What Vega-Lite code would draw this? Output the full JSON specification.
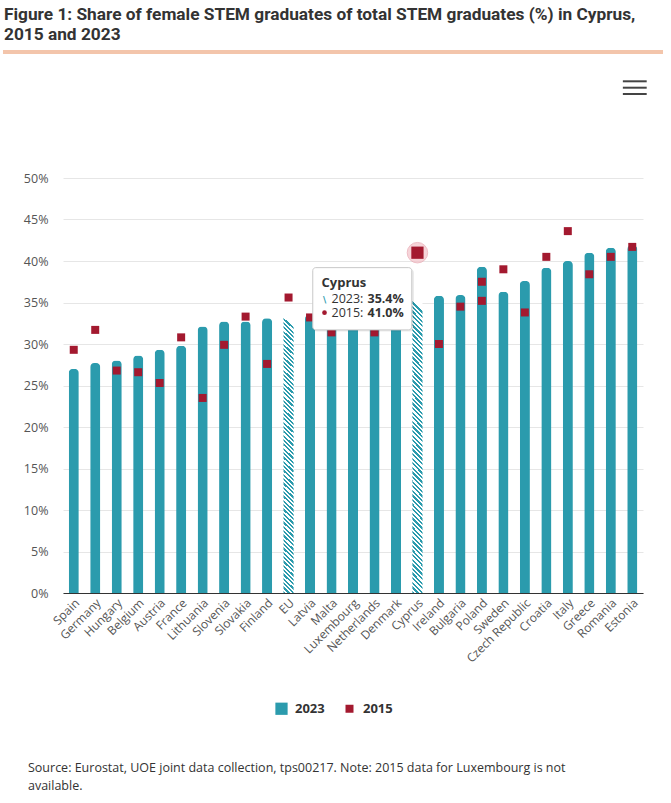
{
  "$schema": "https://vega.github.io/schema/vega-lite/v6.json",
  "background": "white",
  "padding": {"left": 0, "top": 6, "right": 6, "bottom": 0},
  "title": {
    "text": ["Source: Eurostat, UOE joint data collection, tps00217. Note: 2015 data for Luxembourg is not", "available."],
    "orient": "bottom",
    "anchor": "start",
    "font": "Open Sans",
    "fontSize": 12.5,
    "fontWeight": "normal",
    "color": "#333333",
    "lineHeight": 18,
    "offset": 46,
    "dx": 27
  },
  "datasets": {
    "y2023": [
      {"country": "Spain", "value": 27.0},
      {"country": "Germany", "value": 27.7},
      {"country": "Hungary", "value": 28.0},
      {"country": "Belgium", "value": 28.6},
      {"country": "Austria", "value": 29.3},
      {"country": "France", "value": 29.8},
      {"country": "Lithuania", "value": 32.1},
      {"country": "Slovenia", "value": 32.7},
      {"country": "Slovakia", "value": 32.7},
      {"country": "Finland", "value": 33.1},
      {"country": "EU", "value": 33.4},
      {"country": "Latvia", "value": 33.5},
      {"country": "Malta", "value": 33.7},
      {"country": "Luxembourg", "value": 34.0},
      {"country": "Netherlands", "value": 34.3},
      {"country": "Denmark", "value": 34.9},
      {"country": "Cyprus", "value": 35.4},
      {"country": "Ireland", "value": 35.8},
      {"country": "Bulgaria", "value": 35.9},
      {"country": "Poland", "value": 39.3},
      {"country": "Sweden", "value": 36.3},
      {"country": "Czech Republic", "value": 37.6},
      {"country": "Croatia", "value": 39.2},
      {"country": "Italy", "value": 40.0},
      {"country": "Greece", "value": 41.0},
      {"country": "Romania", "value": 41.6},
      {"country": "Estonia", "value": 41.9}
    ],
    "y2015": [
      {"country": "Spain", "value": 29.3},
      {"country": "Germany", "value": 31.7},
      {"country": "Hungary", "value": 26.8},
      {"country": "Belgium", "value": 26.6},
      {"country": "Austria", "value": 25.3},
      {"country": "France", "value": 30.8},
      {"country": "Lithuania", "value": 23.5},
      {"country": "Slovenia", "value": 29.9},
      {"country": "Slovakia", "value": 33.3},
      {"country": "Finland", "value": 27.6},
      {"country": "EU", "value": 35.6},
      {"country": "Latvia", "value": 33.2},
      {"country": "Malta", "value": 31.4},
      {"country": "Netherlands", "value": 31.4},
      {"country": "Denmark", "value": 35.0},
      {"country": "Cyprus", "value": 41.0},
      {"country": "Ireland", "value": 30.0},
      {"country": "Bulgaria", "value": 34.5},
      {"country": "Poland", "value": 37.5},
      {"country": "Poland", "value": 35.2},
      {"country": "Sweden", "value": 39.0},
      {"country": "Czech Republic", "value": 33.8},
      {"country": "Croatia", "value": 40.5},
      {"country": "Italy", "value": 43.6},
      {"country": "Greece", "value": 38.4},
      {"country": "Romania", "value": 40.5},
      {"country": "Estonia", "value": 41.7}
    ]
  },
  "columns": 1,
  "spacing": 70,
  "concat": [
    {
      "title": {
        "text": ["Figure 1: Share of female STEM graduates of total STEM graduates (%) in Cyprus,", "2015 and 2023"],
        "anchor": "start",
        "frame": "bounds",
        "font": "Roboto",
        "fontSize": 17.3,
        "fontWeight": "bold",
        "color": "#333333",
        "lineHeight": 19.5,
        "offset": 7,
        "dx": 3
      },
      "width": 602,
      "height": 50,
      "data": {"values": [{}]},
      "layer": [
        {
          "mark": {"type": "rule", "color": "#f3c5ab", "strokeWidth": 4},
          "encoding": {
            "x": {"datum": -0.0997, "type": "quantitative", "scale": {"domain": [0, 1], "nice": false, "zero": false}, "axis": null},
            "x2": {"datum": 0.9967},
            "y": {"datum": 0, "type": "quantitative", "scale": {"domain": [0, 50], "nice": false, "reverse": true}, "axis": null}
          }
        },
        {
          "mark": {"type": "rule", "color": "#444444", "strokeWidth": 2},
          "encoding": {"x": {"datum": 0.930, "type": "quantitative"}, "x2": {"datum": 0.9696}, "y": {"datum": 29.3, "type": "quantitative"}}
        },
        {
          "mark": {"type": "rule", "color": "#444444", "strokeWidth": 2},
          "encoding": {"x": {"datum": 0.930, "type": "quantitative"}, "x2": {"datum": 0.9696}, "y": {"datum": 35.7, "type": "quantitative"}}
        },
        {
          "mark": {"type": "rule", "color": "#444444", "strokeWidth": 2},
          "encoding": {"x": {"datum": 0.930, "type": "quantitative"}, "x2": {"datum": 0.9696}, "y": {"datum": 42, "type": "quantitative"}}
        }
      ]
    },
    {
      "width": 580,
      "height": 415,
      "layer": [
        {
          "data": {"name": "y2023"},
          "transform": [{"filter": "datum.country !== 'EU' && datum.country !== 'Cyprus'"}],
          "mark": {"type": "bar", "cornerRadiusTopLeft": 4, "cornerRadiusTopRight": 4},
          "encoding": {
            "x": {
              "field": "country",
              "type": "nominal",
              "sort": null,
              "scale": {
                "domain": ["Spain", "Germany", "Hungary", "Belgium", "Austria", "France", "Lithuania", "Slovenia", "Slovakia", "Finland", "EU", "Latvia", "Malta", "Luxembourg", "Netherlands", "Denmark", "Cyprus", "Ireland", "Bulgaria", "Poland", "Sweden", "Czech Republic", "Croatia", "Italy", "Greece", "Romania", "Estonia"],
                "paddingInner": 0.53,
                "paddingOuter": 0.265
              },
              "axis": {
                "title": null,
                "labelAngle": -45,
                "ticks": false,
                "domainColor": "#333333",
                "labelFont": "Open Sans",
                "labelFontSize": 12,
                "labelColor": "#555555",
                "labelPadding": 4
              }
            },
            "y": {
              "field": "value",
              "type": "quantitative",
              "scale": {"domain": [0, 50], "nice": false},
              "axis": {
                "title": null,
                "values": [0, 5, 10, 15, 20, 25, 30, 35, 40, 45, 50],
                "labelExpr": "datum.value + '%'",
                "domain": false,
                "ticks": false,
                "gridColor": "#e6e6e6",
                "labelFont": "Open Sans",
                "labelFontSize": 12.5,
                "labelColor": "#555555",
                "labelPadding": 15,
                "minExtent": 60
              }
            },
            "color": {
              "datum": "2023",
              "type": "nominal",
              "scale": {"domain": ["2023", "2015"], "range": ["#2b9bad", "#a3192f"]},
              "legend": {
                "title": null,
                "orient": "none",
                "legendX": 212,
                "legendY": 650,
                "direction": "horizontal",
                "symbolType": "square",
                "labelFont": "Open Sans",
                "labelFontSize": 13,
                "labelFontWeight": "bold",
                "labelColor": "#333333",
                "labelOffset": 7,
                "columnPadding": 18,
                "encode": {"symbols": {"update": {"size": {"signal": "datum.value === '2023' ? 150 : 64"}}}}
              }
            }
          }
        },
        {
          "data": {"name": "y2023"},
          "transform": [{"filter": "datum.country === 'EU' || datum.country === 'Cyprus'"}],
          "mark": {
            "type": "bar",
            "fill": {
              "gradient": "linear", "x1": 0, "y1": 1, "x2": 0.035, "y2": 0,
              "stops": [
                {"offset": 0, "color": "#2b9bad"}, {"offset": 0.0078, "color": "#2b9bad"}, {"offset": 0.0078, "color": "#fff"}, {"offset": 0.0156, "color": "#fff"},
                {"offset": 0.0156, "color": "#2b9bad"}, {"offset": 0.0234, "color": "#2b9bad"}, {"offset": 0.0234, "color": "#fff"}, {"offset": 0.0313, "color": "#fff"},
                {"offset": 0.0313, "color": "#2b9bad"}, {"offset": 0.0391, "color": "#2b9bad"}, {"offset": 0.0391, "color": "#fff"}, {"offset": 0.0469, "color": "#fff"},
                {"offset": 0.0469, "color": "#2b9bad"}, {"offset": 0.0547, "color": "#2b9bad"}, {"offset": 0.0547, "color": "#fff"}, {"offset": 0.0625, "color": "#fff"},
                {"offset": 0.0625, "color": "#2b9bad"}, {"offset": 0.0703, "color": "#2b9bad"}, {"offset": 0.0703, "color": "#fff"}, {"offset": 0.0781, "color": "#fff"},
                {"offset": 0.0781, "color": "#2b9bad"}, {"offset": 0.0859, "color": "#2b9bad"}, {"offset": 0.0859, "color": "#fff"}, {"offset": 0.0938, "color": "#fff"},
                {"offset": 0.0938, "color": "#2b9bad"}, {"offset": 0.1016, "color": "#2b9bad"}, {"offset": 0.1016, "color": "#fff"}, {"offset": 0.1094, "color": "#fff"},
                {"offset": 0.1094, "color": "#2b9bad"}, {"offset": 0.1172, "color": "#2b9bad"}, {"offset": 0.1172, "color": "#fff"}, {"offset": 0.125, "color": "#fff"},
                {"offset": 0.125, "color": "#2b9bad"}, {"offset": 0.1328, "color": "#2b9bad"}, {"offset": 0.1328, "color": "#fff"}, {"offset": 0.1406, "color": "#fff"},
                {"offset": 0.1406, "color": "#2b9bad"}, {"offset": 0.1484, "color": "#2b9bad"}, {"offset": 0.1484, "color": "#fff"}, {"offset": 0.1563, "color": "#fff"},
                {"offset": 0.1563, "color": "#2b9bad"}, {"offset": 0.1641, "color": "#2b9bad"}, {"offset": 0.1641, "color": "#fff"}, {"offset": 0.1719, "color": "#fff"},
                {"offset": 0.1719, "color": "#2b9bad"}, {"offset": 0.1797, "color": "#2b9bad"}, {"offset": 0.1797, "color": "#fff"}, {"offset": 0.1875, "color": "#fff"},
                {"offset": 0.1875, "color": "#2b9bad"}, {"offset": 0.1953, "color": "#2b9bad"}, {"offset": 0.1953, "color": "#fff"}, {"offset": 0.2031, "color": "#fff"},
                {"offset": 0.2031, "color": "#2b9bad"}, {"offset": 0.2109, "color": "#2b9bad"}, {"offset": 0.2109, "color": "#fff"}, {"offset": 0.2188, "color": "#fff"},
                {"offset": 0.2188, "color": "#2b9bad"}, {"offset": 0.2266, "color": "#2b9bad"}, {"offset": 0.2266, "color": "#fff"}, {"offset": 0.2344, "color": "#fff"},
                {"offset": 0.2344, "color": "#2b9bad"}, {"offset": 0.2422, "color": "#2b9bad"}, {"offset": 0.2422, "color": "#fff"}, {"offset": 0.25, "color": "#fff"},
                {"offset": 0.25, "color": "#2b9bad"}, {"offset": 0.2578, "color": "#2b9bad"}, {"offset": 0.2578, "color": "#fff"}, {"offset": 0.2656, "color": "#fff"},
                {"offset": 0.2656, "color": "#2b9bad"}, {"offset": 0.2734, "color": "#2b9bad"}, {"offset": 0.2734, "color": "#fff"}, {"offset": 0.2813, "color": "#fff"},
                {"offset": 0.2813, "color": "#2b9bad"}, {"offset": 0.2891, "color": "#2b9bad"}, {"offset": 0.2891, "color": "#fff"}, {"offset": 0.2969, "color": "#fff"},
                {"offset": 0.2969, "color": "#2b9bad"}, {"offset": 0.3047, "color": "#2b9bad"}, {"offset": 0.3047, "color": "#fff"}, {"offset": 0.3125, "color": "#fff"},
                {"offset": 0.3125, "color": "#2b9bad"}, {"offset": 0.3203, "color": "#2b9bad"}, {"offset": 0.3203, "color": "#fff"}, {"offset": 0.3281, "color": "#fff"},
                {"offset": 0.3281, "color": "#2b9bad"}, {"offset": 0.3359, "color": "#2b9bad"}, {"offset": 0.3359, "color": "#fff"}, {"offset": 0.3438, "color": "#fff"},
                {"offset": 0.3438, "color": "#2b9bad"}, {"offset": 0.3516, "color": "#2b9bad"}, {"offset": 0.3516, "color": "#fff"}, {"offset": 0.3594, "color": "#fff"},
                {"offset": 0.3594, "color": "#2b9bad"}, {"offset": 0.3672, "color": "#2b9bad"}, {"offset": 0.3672, "color": "#fff"}, {"offset": 0.375, "color": "#fff"},
                {"offset": 0.375, "color": "#2b9bad"}, {"offset": 0.3828, "color": "#2b9bad"}, {"offset": 0.3828, "color": "#fff"}, {"offset": 0.3906, "color": "#fff"},
                {"offset": 0.3906, "color": "#2b9bad"}, {"offset": 0.3984, "color": "#2b9bad"}, {"offset": 0.3984, "color": "#fff"}, {"offset": 0.4063, "color": "#fff"},
                {"offset": 0.4063, "color": "#2b9bad"}, {"offset": 0.4141, "color": "#2b9bad"}, {"offset": 0.4141, "color": "#fff"}, {"offset": 0.4219, "color": "#fff"},
                {"offset": 0.4219, "color": "#2b9bad"}, {"offset": 0.4297, "color": "#2b9bad"}, {"offset": 0.4297, "color": "#fff"}, {"offset": 0.4375, "color": "#fff"},
                {"offset": 0.4375, "color": "#2b9bad"}, {"offset": 0.4453, "color": "#2b9bad"}, {"offset": 0.4453, "color": "#fff"}, {"offset": 0.4531, "color": "#fff"},
                {"offset": 0.4531, "color": "#2b9bad"}, {"offset": 0.4609, "color": "#2b9bad"}, {"offset": 0.4609, "color": "#fff"}, {"offset": 0.4688, "color": "#fff"},
                {"offset": 0.4688, "color": "#2b9bad"}, {"offset": 0.4766, "color": "#2b9bad"}, {"offset": 0.4766, "color": "#fff"}, {"offset": 0.4844, "color": "#fff"},
                {"offset": 0.4844, "color": "#2b9bad"}, {"offset": 0.4922, "color": "#2b9bad"}, {"offset": 0.4922, "color": "#fff"}, {"offset": 0.5, "color": "#fff"},
                {"offset": 0.5, "color": "#2b9bad"}, {"offset": 0.5078, "color": "#2b9bad"}, {"offset": 0.5078, "color": "#fff"}, {"offset": 0.5156, "color": "#fff"},
                {"offset": 0.5156, "color": "#2b9bad"}, {"offset": 0.5234, "color": "#2b9bad"}, {"offset": 0.5234, "color": "#fff"}, {"offset": 0.5313, "color": "#fff"},
                {"offset": 0.5313, "color": "#2b9bad"}, {"offset": 0.5391, "color": "#2b9bad"}, {"offset": 0.5391, "color": "#fff"}, {"offset": 0.5469, "color": "#fff"},
                {"offset": 0.5469, "color": "#2b9bad"}, {"offset": 0.5547, "color": "#2b9bad"}, {"offset": 0.5547, "color": "#fff"}, {"offset": 0.5625, "color": "#fff"},
                {"offset": 0.5625, "color": "#2b9bad"}, {"offset": 0.5703, "color": "#2b9bad"}, {"offset": 0.5703, "color": "#fff"}, {"offset": 0.5781, "color": "#fff"},
                {"offset": 0.5781, "color": "#2b9bad"}, {"offset": 0.5859, "color": "#2b9bad"}, {"offset": 0.5859, "color": "#fff"}, {"offset": 0.5938, "color": "#fff"},
                {"offset": 0.5938, "color": "#2b9bad"}, {"offset": 0.6016, "color": "#2b9bad"}, {"offset": 0.6016, "color": "#fff"}, {"offset": 0.6094, "color": "#fff"},
                {"offset": 0.6094, "color": "#2b9bad"}, {"offset": 0.6172, "color": "#2b9bad"}, {"offset": 0.6172, "color": "#fff"}, {"offset": 0.625, "color": "#fff"},
                {"offset": 0.625, "color": "#2b9bad"}, {"offset": 0.6328, "color": "#2b9bad"}, {"offset": 0.6328, "color": "#fff"}, {"offset": 0.6406, "color": "#fff"},
                {"offset": 0.6406, "color": "#2b9bad"}, {"offset": 0.6484, "color": "#2b9bad"}, {"offset": 0.6484, "color": "#fff"}, {"offset": 0.6563, "color": "#fff"},
                {"offset": 0.6563, "color": "#2b9bad"}, {"offset": 0.6641, "color": "#2b9bad"}, {"offset": 0.6641, "color": "#fff"}, {"offset": 0.6719, "color": "#fff"},
                {"offset": 0.6719, "color": "#2b9bad"}, {"offset": 0.6797, "color": "#2b9bad"}, {"offset": 0.6797, "color": "#fff"}, {"offset": 0.6875, "color": "#fff"},
                {"offset": 0.6875, "color": "#2b9bad"}, {"offset": 0.6953, "color": "#2b9bad"}, {"offset": 0.6953, "color": "#fff"}, {"offset": 0.7031, "color": "#fff"},
                {"offset": 0.7031, "color": "#2b9bad"}, {"offset": 0.7109, "color": "#2b9bad"}, {"offset": 0.7109, "color": "#fff"}, {"offset": 0.7188, "color": "#fff"},
                {"offset": 0.7188, "color": "#2b9bad"}, {"offset": 0.7266, "color": "#2b9bad"}, {"offset": 0.7266, "color": "#fff"}, {"offset": 0.7344, "color": "#fff"},
                {"offset": 0.7344, "color": "#2b9bad"}, {"offset": 0.7422, "color": "#2b9bad"}, {"offset": 0.7422, "color": "#fff"}, {"offset": 0.75, "color": "#fff"},
                {"offset": 0.75, "color": "#2b9bad"}, {"offset": 0.7578, "color": "#2b9bad"}, {"offset": 0.7578, "color": "#fff"}, {"offset": 0.7656, "color": "#fff"},
                {"offset": 0.7656, "color": "#2b9bad"}, {"offset": 0.7734, "color": "#2b9bad"}, {"offset": 0.7734, "color": "#fff"}, {"offset": 0.7813, "color": "#fff"},
                {"offset": 0.7813, "color": "#2b9bad"}, {"offset": 0.7891, "color": "#2b9bad"}, {"offset": 0.7891, "color": "#fff"}, {"offset": 0.7969, "color": "#fff"},
                {"offset": 0.7969, "color": "#2b9bad"}, {"offset": 0.8047, "color": "#2b9bad"}, {"offset": 0.8047, "color": "#fff"}, {"offset": 0.8125, "color": "#fff"},
                {"offset": 0.8125, "color": "#2b9bad"}, {"offset": 0.8203, "color": "#2b9bad"}, {"offset": 0.8203, "color": "#fff"}, {"offset": 0.8281, "color": "#fff"},
                {"offset": 0.8281, "color": "#2b9bad"}, {"offset": 0.8359, "color": "#2b9bad"}, {"offset": 0.8359, "color": "#fff"}, {"offset": 0.8438, "color": "#fff"},
                {"offset": 0.8438, "color": "#2b9bad"}, {"offset": 0.8516, "color": "#2b9bad"}, {"offset": 0.8516, "color": "#fff"}, {"offset": 0.8594, "color": "#fff"},
                {"offset": 0.8594, "color": "#2b9bad"}, {"offset": 0.8672, "color": "#2b9bad"}, {"offset": 0.8672, "color": "#fff"}, {"offset": 0.875, "color": "#fff"},
                {"offset": 0.875, "color": "#2b9bad"}, {"offset": 0.8828, "color": "#2b9bad"}, {"offset": 0.8828, "color": "#fff"}, {"offset": 0.8906, "color": "#fff"},
                {"offset": 0.8906, "color": "#2b9bad"}, {"offset": 0.8984, "color": "#2b9bad"}, {"offset": 0.8984, "color": "#fff"}, {"offset": 0.9063, "color": "#fff"},
                {"offset": 0.9063, "color": "#2b9bad"}, {"offset": 0.9141, "color": "#2b9bad"}, {"offset": 0.9141, "color": "#fff"}, {"offset": 0.9219, "color": "#fff"},
                {"offset": 0.9219, "color": "#2b9bad"}, {"offset": 0.9297, "color": "#2b9bad"}, {"offset": 0.9297, "color": "#fff"}, {"offset": 0.9375, "color": "#fff"},
                {"offset": 0.9375, "color": "#2b9bad"}, {"offset": 0.9453, "color": "#2b9bad"}, {"offset": 0.9453, "color": "#fff"}, {"offset": 0.9531, "color": "#fff"},
                {"offset": 0.9531, "color": "#2b9bad"}, {"offset": 0.9609, "color": "#2b9bad"}, {"offset": 0.9609, "color": "#fff"}, {"offset": 0.9688, "color": "#fff"},
                {"offset": 0.9688, "color": "#2b9bad"}, {"offset": 0.9766, "color": "#2b9bad"}, {"offset": 0.9766, "color": "#fff"}, {"offset": 0.9844, "color": "#fff"},
                {"offset": 0.9844, "color": "#2b9bad"}, {"offset": 0.9922, "color": "#2b9bad"}, {"offset": 0.9922, "color": "#fff"}, {"offset": 1, "color": "#fff"}
              ]
            }
          },
          "encoding": {
            "x": {"field": "country", "type": "nominal", "sort": null},
            "y": {"field": "value", "type": "quantitative"}
          }
        },
        {
          "data": {"name": "y2015"},
          "transform": [{"filter": "datum.country === 'Cyprus'"}],
          "mark": {"type": "point", "shape": "circle", "filled": true, "size": 420, "color": "#f3c2c9", "opacity": 0.7, "stroke": "#e8a2ad", "strokeWidth": 1},
          "encoding": {
            "x": {"field": "country", "type": "nominal", "sort": null},
            "y": {"field": "value", "type": "quantitative"}
          }
        },
        {
          "data": {"name": "y2015"},
          "mark": {"type": "point", "shape": "square", "filled": true, "opacity": 1},
          "encoding": {
            "x": {"field": "country", "type": "nominal", "sort": null},
            "y": {"field": "value", "type": "quantitative"},
            "color": {"datum": "2015", "type": "nominal"},
            "size": {"condition": {"test": "datum.country === 'Cyprus'", "value": 150}, "value": 64}
          }
        },
        {
          "data": {"values": [{}]},
          "mark": {"type": "bar", "width": 101, "xOffset": 10.5, "yOffset": 1, "color": "#000000", "opacity": 0.08, "cornerRadius": 4},
          "encoding": {"x": {"datum": "Luxembourg", "type": "nominal"}, "y": {"datum": 39.2, "type": "quantitative"}, "y2": {"datum": 31.5}}
        },
        {
          "data": {"values": [{}]},
          "mark": {"type": "bar", "width": 99, "xOffset": 9.25, "fill": "#ffffff", "stroke": "#c8c8c8", "strokeWidth": 1, "cornerRadius": 3},
          "encoding": {"x": {"datum": "Luxembourg", "type": "nominal"}, "y": {"datum": 39.2, "type": "quantitative"}, "y2": {"datum": 31.7}}
        },
        {
          "data": {"values": [{}]},
          "mark": {"type": "text", "text": "Cyprus", "align": "left", "baseline": "alphabetic", "dx": -31.5, "font": "Open Sans", "fontSize": 13, "fontWeight": "bold", "color": "#333333"},
          "encoding": {"x": {"datum": "Luxembourg", "type": "nominal"}, "y": {"datum": 36.87, "type": "quantitative"}}
        },
        {
          "data": {"values": [{}]},
          "mark": {"type": "text", "text": "\u2216", "align": "center", "baseline": "alphabetic", "dx": -28.5, "font": "DejaVu Sans", "fontSize": 9, "fontWeight": "bold", "color": "#2b9bad"},
          "encoding": {"x": {"datum": "Luxembourg", "type": "nominal"}, "y": {"datum": 34.94, "type": "quantitative"}}
        },
        {
          "data": {"values": [{}]},
          "mark": {"type": "text", "text": "2023:", "align": "left", "baseline": "alphabetic", "dx": -21.5, "font": "Open Sans", "fontSize": 12.5, "color": "#333333"},
          "encoding": {"x": {"datum": "Luxembourg", "type": "nominal"}, "y": {"datum": 34.94, "type": "quantitative"}}
        },
        {
          "data": {"values": [{}]},
          "mark": {"type": "text", "text": "35.4%", "align": "left", "baseline": "alphabetic", "dx": 14.5, "font": "Open Sans", "fontSize": 12.5, "fontWeight": "bold", "color": "#333333"},
          "encoding": {"x": {"datum": "Luxembourg", "type": "nominal"}, "y": {"datum": 34.94, "type": "quantitative"}}
        },
        {
          "data": {"values": [{}]},
          "mark": {"type": "point", "shape": "circle", "filled": true, "size": 22, "xOffset": -28.5, "yOffset": -4, "color": "#a3192f", "opacity": 1},
          "encoding": {"x": {"datum": "Luxembourg", "type": "nominal"}, "y": {"datum": 33.29, "type": "quantitative"}}
        },
        {
          "data": {"values": [{}]},
          "mark": {"type": "text", "text": "2015:", "align": "left", "baseline": "alphabetic", "dx": -21.5, "font": "Open Sans", "fontSize": 12.5, "color": "#333333"},
          "encoding": {"x": {"datum": "Luxembourg", "type": "nominal"}, "y": {"datum": 33.29, "type": "quantitative"}}
        },
        {
          "data": {"values": [{}]},
          "mark": {"type": "text", "text": "41.0%", "align": "left", "baseline": "alphabetic", "dx": 14.5, "font": "Open Sans", "fontSize": 12.5, "fontWeight": "bold", "color": "#333333"},
          "encoding": {"x": {"datum": "Luxembourg", "type": "nominal"}, "y": {"datum": 33.29, "type": "quantitative"}}
        }
      ]
    }
  ],
  "config": {
    "view": {"stroke": null},
    "font": "Open Sans"
  }
}
